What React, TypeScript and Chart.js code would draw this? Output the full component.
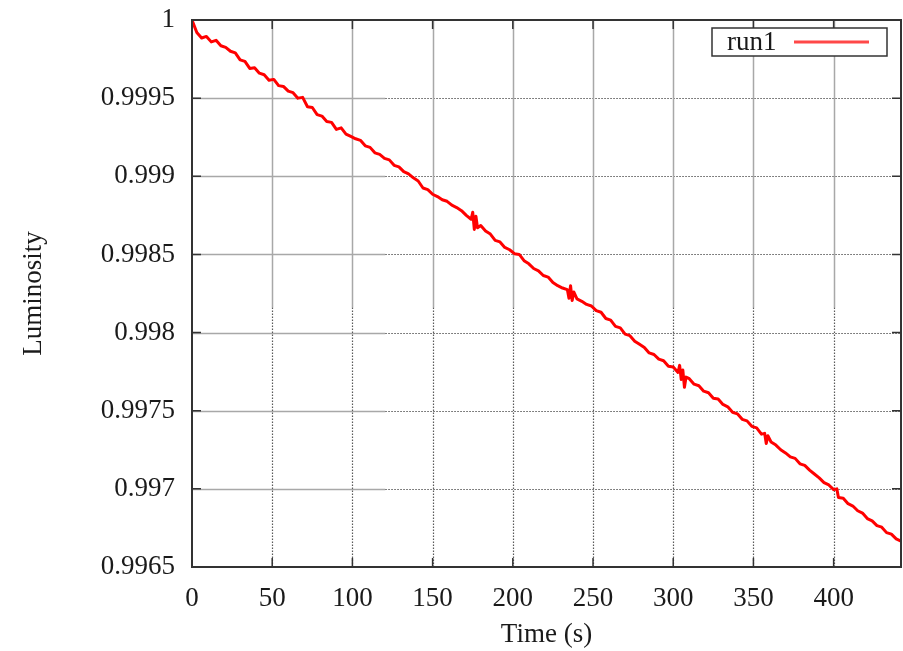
import React, { useEffect, useRef } from "react";
import { Chart, registerables } from "chart.js";

Chart.register(...registerables);

// ---- data ----
const seriesName = "run1";
const xTitle = "Time (s)";
const yTitle = "Luminosity";

const xMin = 0;
const xMax = 442;
const xStep = 50;
const yMin = 0.9965;
const yMax = 1;
const yStep = 0.0005;

const times = [
  0, 3, 6, 9, 12, 15, 18, 21, 24, 27, 30, 33, 36, 39, 42, 45, 48, 51, 54, 57,
  60, 63, 66, 69, 72, 75, 78, 81, 84, 87, 90, 93, 96, 99, 102, 105, 108, 111, 114, 117,
  120, 123, 126, 129, 132, 135, 138, 141, 144, 147, 150, 153, 156, 159, 162, 165, 168, 171, 174, 175,
  176, 177, 178, 180, 183, 186, 189, 192, 195, 198, 201, 204, 207, 210, 213, 216, 219, 222, 225, 228,
  231, 234, 235, 236, 237, 238, 240, 243, 246, 249, 252, 255, 258, 261, 264, 267, 270, 273, 276, 279,
  282, 285, 288, 291, 294, 297, 300, 303, 304, 305, 306, 307, 308, 310, 313, 316, 319, 322, 325, 328,
  331, 334, 337, 340, 343, 346, 349, 352, 355, 357, 358, 359, 361, 364, 367, 370, 373, 376, 379, 382,
  385, 388, 391, 394, 397, 400, 402, 403, 406, 409, 412, 415, 418, 421, 424, 427, 430, 433, 436, 439,
  442,
];

const luminosity = [
  1.0, 0.99992, 0.999885, 0.999895, 0.99986, 0.99987, 0.999835, 0.999825, 0.9998, 0.99979,
  0.999745, 0.999735, 0.99969, 0.999695, 0.99966, 0.99965, 0.999615, 0.99962, 0.99958, 0.999575,
  0.999545, 0.999535, 0.9995, 0.999505, 0.999445, 0.99944, 0.999395, 0.999385, 0.99935, 0.999345,
  0.9993, 0.99931, 0.99927, 0.999255, 0.99924, 0.99923, 0.999195, 0.999185, 0.99915, 0.99914,
  0.999115, 0.999105, 0.99907, 0.99906, 0.99903, 0.999015, 0.99899, 0.99897, 0.998925, 0.998915,
  0.998885, 0.99887, 0.99885, 0.99884, 0.998815, 0.9988, 0.99878, 0.99875, 0.998725, 0.99877,
  0.99866, 0.998745, 0.99867, 0.998685, 0.99865, 0.99863, 0.99859, 0.99858, 0.998545, 0.99853,
  0.998505, 0.9985, 0.99846, 0.99844, 0.99841, 0.998395, 0.998365, 0.998355, 0.99832, 0.9983,
  0.998285, 0.998275, 0.99822, 0.9983, 0.998205, 0.99826, 0.998215, 0.9982, 0.99818, 0.99817,
  0.99814, 0.99813, 0.99809, 0.99808, 0.99804, 0.99803, 0.99799, 0.99798, 0.997945, 0.997925,
  0.997905, 0.99787, 0.99786, 0.99783, 0.99782, 0.997785, 0.99778, 0.997745, 0.99779, 0.9977,
  0.99776, 0.99765, 0.997715, 0.997705, 0.99767, 0.99766, 0.997625, 0.997615, 0.99758, 0.997575,
  0.99754, 0.997525, 0.99749, 0.99748, 0.997445, 0.997435, 0.9974, 0.99739, 0.99735, 0.997355,
  0.99729, 0.99734, 0.9973, 0.99728, 0.99725, 0.99723, 0.997205, 0.997195, 0.99716, 0.99715,
  0.99712, 0.997095, 0.99707, 0.99704, 0.997025, 0.996995, 0.997, 0.996945, 0.99694, 0.996905,
  0.99689, 0.99686, 0.996845, 0.99681, 0.996795, 0.996765, 0.996755, 0.99672, 0.99671, 0.99668,
  0.996665,
];

// ---- styling ----
const FONT = "'Liberation Serif', 'DejaVu Serif', 'Times New Roman', serif";
const FONT_SIZE = 27;
const TEXT_COLOR = "#1a1a1a";
const FRAME_COLOR = "#333333";
const LINE_COLOR = "#ff0000";

const gnuplotLook = {
  id: "gnuplotLook",
  beforeDatasetsDraw(chart: any) {
    const { ctx, chartArea: a, scales } = chart;
    const x = scales.x;
    const y = scales.y;
    const splitX = x.getPixelForValue(120.5);
    const splitY = y.getPixelForValue(0.99816);
    const seg = (x1: number, y1: number, x2: number, y2: number) => {
      ctx.beginPath();
      ctx.moveTo(x1, y1);
      ctx.lineTo(x2, y2);
      ctx.stroke();
    };
    ctx.save();
    y.ticks.forEach((t: any) => {
      const py = Math.round(y.getPixelForValue(t.value)) + 0.5;
      if (py <= a.top + 2 || py >= a.bottom - 2) return;
      ctx.setLineDash([]);
      ctx.strokeStyle = "#a8a8a8";
      ctx.lineWidth = 1.5;
      seg(a.left, py, splitX, py);
      ctx.setLineDash([1.5, 1.5]);
      ctx.strokeStyle = "#5a5a5a";
      ctx.lineWidth = 1.2;
      seg(splitX, py, a.right, py);
    });
    x.ticks.forEach((t: any) => {
      const px = Math.round(x.getPixelForValue(t.value)) + 0.5;
      if (px <= a.left + 2 || px >= a.right - 2) return;
      ctx.setLineDash([]);
      ctx.strokeStyle = "#a8a8a8";
      ctx.lineWidth = 1.5;
      seg(px, a.top, px, splitY);
      ctx.setLineDash([1.5, 1.5]);
      ctx.strokeStyle = "#5a5a5a";
      ctx.lineWidth = 1.2;
      seg(px, splitY, px, a.bottom);
    });
    ctx.restore();
  },
  afterDatasetsDraw(chart: any) {
    const { ctx, chartArea: a, scales } = chart;
    const x = scales.x;
    const y = scales.y;
    const tick = 9;
    ctx.save();
    ctx.setLineDash([]);
    ctx.strokeStyle = FRAME_COLOR;
    ctx.lineWidth = 1.5;
    x.ticks.forEach((t: any) => {
      const px = x.getPixelForValue(t.value);
      ctx.beginPath();
      ctx.moveTo(px, a.bottom);
      ctx.lineTo(px, a.bottom - tick);
      ctx.moveTo(px, a.top);
      ctx.lineTo(px, a.top + tick);
      ctx.stroke();
    });
    y.ticks.forEach((t: any) => {
      const py = y.getPixelForValue(t.value);
      ctx.beginPath();
      ctx.moveTo(a.left, py);
      ctx.lineTo(a.left + tick, py);
      ctx.moveTo(a.right, py);
      ctx.lineTo(a.right - tick, py);
      ctx.stroke();
    });
    ctx.lineWidth = 2;
    ctx.strokeRect(a.left, a.top, a.right - a.left, a.bottom - a.top);

    // gnuplot-style key: text left, line sample right, boxed
    const boxW = 175;
    const boxH = 28;
    const bx = a.right - 14 - boxW;
    const by = a.top + 8;
    ctx.fillStyle = "#ffffff";
    ctx.fillRect(bx, by, boxW, boxH);
    ctx.lineWidth = 1.5;
    ctx.strokeStyle = FRAME_COLOR;
    ctx.strokeRect(bx, by, boxW, boxH);
    ctx.fillStyle = TEXT_COLOR;
    ctx.font = `${FONT_SIZE}px ${FONT}`;
    ctx.textAlign = "left";
    ctx.textBaseline = "middle";
    ctx.fillText(seriesName, bx + 15, by + boxH / 2 + 1);
    ctx.strokeStyle = "rgba(255,40,40,0.85)";
    ctx.lineWidth = 3;
    ctx.beginPath();
    ctx.moveTo(bx + boxW - 93, by + boxH / 2);
    ctx.lineTo(bx + boxW - 18, by + boxH / 2);
    ctx.stroke();
    ctx.restore();
  },
};

export default function App() {
  const ref = useRef<HTMLCanvasElement>(null);

  useEffect(() => {
    const points = times.map((t, i) => ({ x: t, y: luminosity[i] }));
    const chart = new Chart(ref.current as HTMLCanvasElement, {
      type: "line",
      data: {
        datasets: [
          {
            label: seriesName,
            data: points,
            borderColor: LINE_COLOR,
            backgroundColor: LINE_COLOR,
            borderWidth: 3,
            borderJoinStyle: "round",
            pointRadius: 0,
            tension: 0,
            fill: false,
          },
        ],
      },
      options: {
        animation: false,
        responsive: false,
        devicePixelRatio: 1,
        layout: { padding: { top: 20, right: 2, left: 0, bottom: 0 } },
        plugins: {
          legend: { display: false },
          tooltip: { enabled: false },
        },
        scales: {
          x: {
            type: "linear",
            min: xMin,
            max: xMax,
            grid: { display: false, drawTicks: false },
            border: { display: false },
            ticks: {
              stepSize: xStep,
              includeBounds: false,
              autoSkip: false,
              maxRotation: 0,
              padding: 16,
              color: TEXT_COLOR,
              font: { family: FONT, size: FONT_SIZE },
            },
            title: {
              display: true,
              text: xTitle,
              color: TEXT_COLOR,
              font: { family: FONT, size: FONT_SIZE },
              padding: { top: 0, bottom: 0 },
            },
            afterFit(scale: any) {
              scale.height = 84;
              scale.paddingLeft = 0;
              scale.paddingRight = 0;
            },
          },
          y: {
            type: "linear",
            min: yMin,
            max: yMax,
            grid: { display: false, drawTicks: false },
            border: { display: false },
            ticks: {
              stepSize: yStep,
              autoSkip: false,
              padding: 17,
              color: TEXT_COLOR,
              font: { family: FONT, size: FONT_SIZE },
              callback: (v: any) => String(parseFloat(Number(v).toFixed(4))),
            },
            title: {
              display: true,
              text: yTitle,
              color: TEXT_COLOR,
              font: { family: FONT, size: FONT_SIZE },
              padding: { top: 18, bottom: 0 },
            },
            afterFit(scale: any) {
              scale.width = 192;
              scale.paddingTop = 0;
              scale.paddingBottom = 0;
            },
          },
        },
      },
      plugins: [gnuplotLook],
    });
    return () => chart.destroy();
  }, []);

  return (
    <div
      style={{
        position: "fixed",
        left: 0,
        top: 0,
        width: 903,
        height: 651,
        background: "#ffffff",
      }}
    >
      <canvas ref={ref} width={903} height={651} style={{ display: "block" }} />
    </div>
  );
}
